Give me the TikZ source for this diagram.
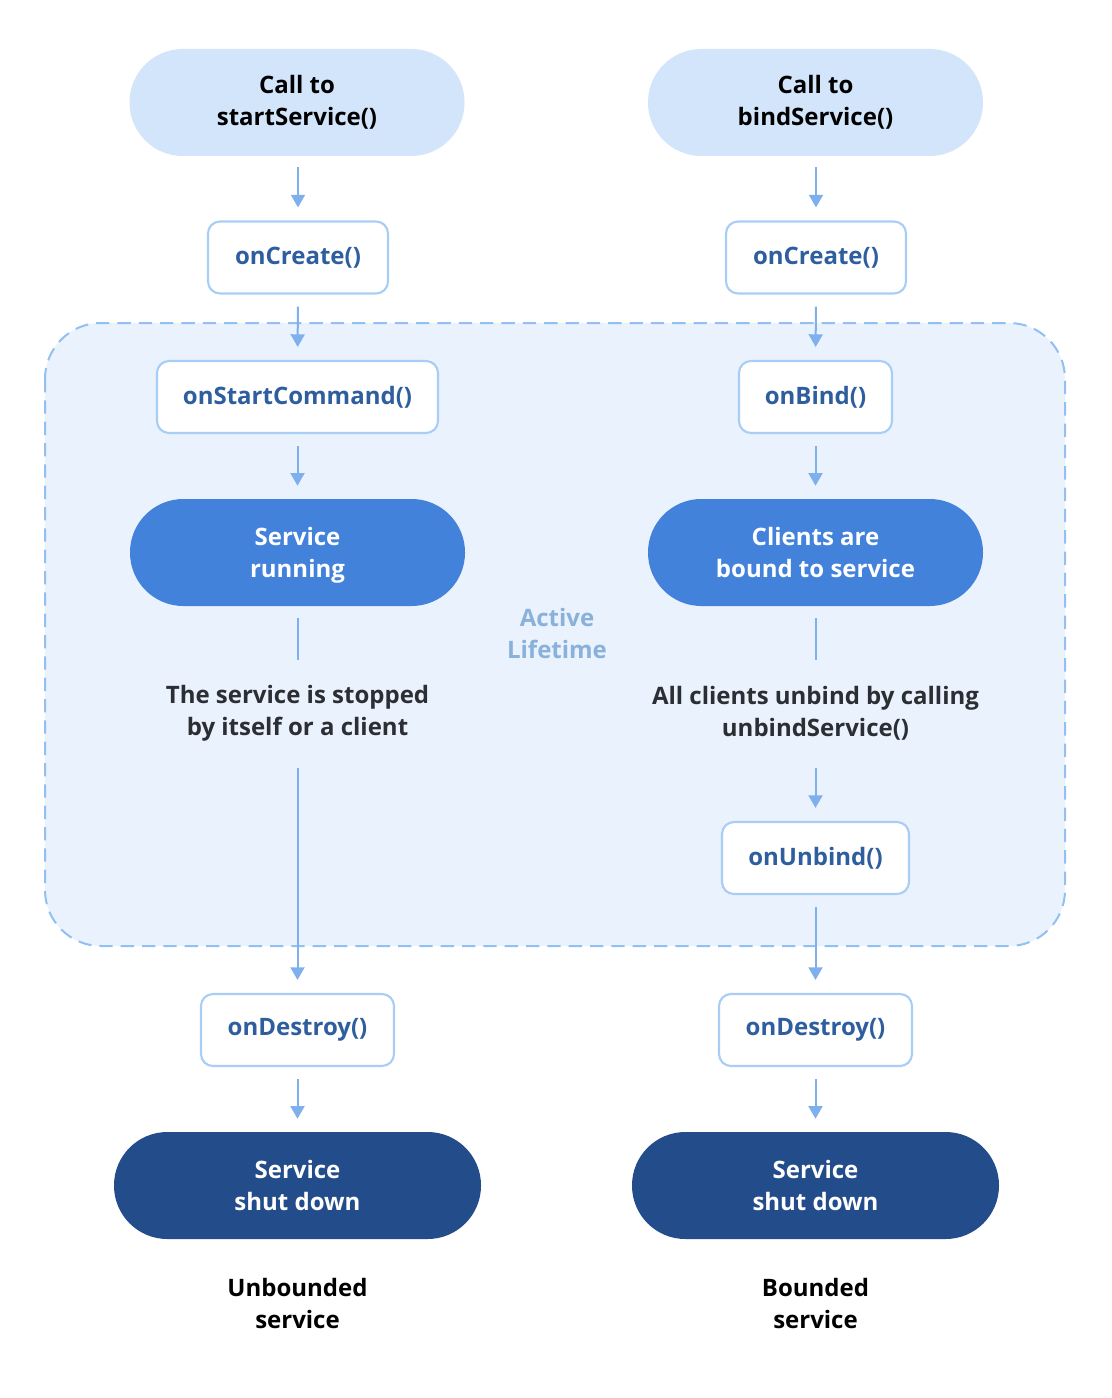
\documentclass[tikz,border=0pt]{standalone}
\usepackage{fontspec}
\setmainfont{Open Sans}
\usetikzlibrary{arrows.meta}
\definecolor{pilllight}{HTML}{D3E5FB}
\definecolor{pillmid}{HTML}{4282DB}
\definecolor{pilldark}{HTML}{234C8A}
\definecolor{boxborder}{HTML}{A9CEF5}
\definecolor{boxtext}{HTML}{2E5E9E}
\definecolor{regionfill}{HTML}{EAF2FD}
\definecolor{regionborder}{HTML}{93C0F2}
\definecolor{arrowcol}{HTML}{7DB0EC}
\definecolor{activecol}{HTML}{8AB1DA}
\definecolor{notetext}{HTML}{2B2F33}
\begin{document}
\begin{tikzpicture}[x=0.75pt,y=-0.75pt,
  every node/.style={font=\fontsize{18}{24}\selectfont\bfseries, align=center},
  pill/.style={rectangle, rounded corners=40pt, minimum width=251.25pt, minimum height=80.25pt, inner sep=0pt},
  pilltop/.style={pill, fill=pilllight, text=black},
  pillrun/.style={pill, fill=pillmid, text=white},
  pillend/.style={pill, fill=pilldark, text=white, minimum width=275.25pt},
  fnbox/.style={rectangle, rounded corners=9pt, draw=boxborder, line width=1.6pt, fill=white, text=boxtext, minimum height=54pt, inner sep=0pt},
  note/.style={text=notetext, minimum height=67.5pt, inner sep=0pt},
  flow/.style={draw=arrowcol, line width=1.5pt, -{Triangle[width=10.5pt,length=9.5pt]}, shorten <=9pt, shorten >=9.75pt},
  plain/.style={draw=arrowcol, line width=1.5pt, shorten <=9pt, shorten >=6pt}
]
\useasboundingbox (0,0) rectangle (1112,1398);
\fill[white] (0,0) rectangle (1112,1398);
% active lifetime region
\draw[fill=regionfill, draw=regionborder, line width=1.5pt, dash pattern=on 10pt off 6pt, rounded corners=42pt] (45,323) rectangle (1065,946);
\node[text=activecol] (active) at (557,633) {Active\\Lifetime};

% left column
\node[pilltop] (lstart) at (297,102.5) {Call to\\startService()};
\node[fnbox, minimum width=135pt] (lcreate) at (298,257.5) {onCreate()};
\node[fnbox, minimum width=210.75pt] (lcmd) at (297.5,397) {onStartCommand()};
\node[pillrun] (lrun) at (297.5,552.5) {Service\\\raisebox{0pt}[\height][0pt]{running}};
\node[note] (lnote) at (297.5,713) {The service is stopped\\by itself or a client};
\node[fnbox, minimum width=144.75pt] (ldestroy) at (297.5,1030) {onDestroy()};
\node[pillend] (lend) at (297.5,1185.5) {Service\\shut down};
\node[text=black] (llabel) at (297.5,1303) {Unbounded\\service};

% right column
\node[pilltop] (rstart) at (815.5,102.5) {Call to\\bindService()};
\node[fnbox, minimum width=135pt] (rcreate) at (816,257.5) {onCreate()};
\node[fnbox, minimum width=114.75pt] (rbind) at (815.5,397) {onBind()};
\node[pillrun] (rrun) at (815.5,552.5) {Clients are\\bound to service};
\node[note] (rnote) at (815.5,713) {All clients unbind by calling\\unbindService()};
\node[fnbox, minimum width=140.25pt] (runbind) at (815.5,858) {onUnbind()};
\node[fnbox, minimum width=144.75pt] (rdestroy) at (815.5,1030) {onDestroy()};
\node[pillend] (rend) at (815.5,1185.5) {Service\\shut down};
\node[text=black] (rlabel) at (815.5,1303) {Bounded\\service};

% connectors left
\draw[flow, shorten <=8.25pt] (lstart.south -| lcreate.north) -- (lcreate.north);
\draw[flow] (lcreate) -- (lcmd);
\draw[flow] (lcmd) -- (lrun);
\draw[plain] (lrun) -- (lnote);
\draw[flow, shorten <=7.5pt] (lnote) -- (ldestroy);
\draw[flow] (ldestroy) -- (lend);
% connectors right
\draw[flow, shorten <=8.25pt] (rstart.south -| rcreate.north) -- (rcreate.north);
\draw[flow] (rcreate) -- (rbind);
\draw[flow] (rbind) -- (rrun);
\draw[plain] (rrun) -- (rnote);
\draw[flow, shorten <=7.5pt] (rnote) -- (runbind);
\draw[flow] (runbind) -- (rdestroy);
\draw[flow] (rdestroy) -- (rend);
\end{tikzpicture}
\end{document}
